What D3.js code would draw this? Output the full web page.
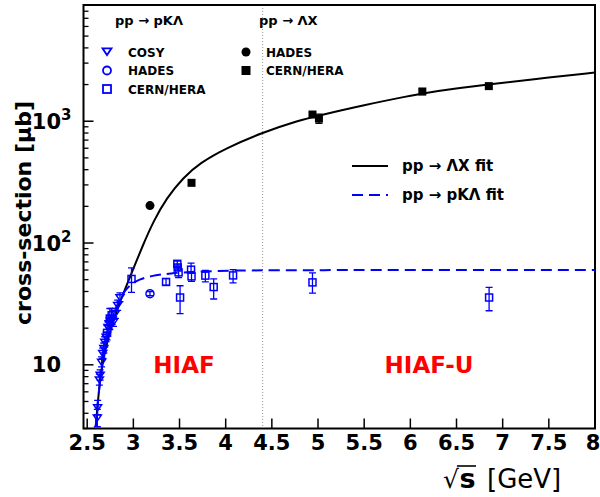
<!DOCTYPE html>
<html>
<head>
<meta charset="utf-8">
<script src="https://cdn.jsdelivr.net/npm/d3@7"></script>
<style>
  body { margin: 0; background: #fff; }
  text { font-family: "DejaVu Sans", sans-serif; }
</style>
</head>
<body>
<div id="chart"></div>
<script>
// data
// pp -> pK Lambda, COSY (x, y, error)
var cosyX = [2.610, 2.613, 2.632, 2.640, 2.656, 2.668, 2.680, 2.690, 2.705, 2.725, 2.738, 2.755, 2.770, 2.785, 2.805, 2.830, 2.855];
var cosyY = [3.7, 4.5, 7.6, 8.3, 10.6, 12.5, 13.8, 15.5, 17.0, 20.5, 22.0, 23.2, 23.5, 22.7, 26.6, 31.0, 36.0];
var cosyErr = [0.6, 0.6, 0.8, 0.8, 1.0, 1.2, 1.3, 1.5, 1.5, 2.0, 2.0, 2.2, 2.0, 2.0, 2.5, 3.0, 3.0];

// pp -> pK Lambda, HADES
var hadesPklX = [3.18];
var hadesPklY = [38.4];
var hadesPklErr = [1.5];

// pp -> pK Lambda, CERN/HERA (x, y, low, high)
var cernPklX = [2.715, 2.745, 2.765, 2.98, 3.354, 3.476, 3.480, 3.49, 3.506, 3.625, 3.63, 3.78, 3.87, 4.08, 4.94, 6.853];
var cernPklY = [18.3, 24.0, 25.5, 50.7, 47.9, 67.5, 63.0, 57.4, 35.7, 60.4, 53.2, 54.0, 43.5, 54.2, 47.5, 35.7];
var cernPklLo = [16.0, 19.5, 22.0, 39.3, 45.0, 64.0, 60.0, 52.0, 26.3, 57.0, 48.4, 47.9, 34.7, 47.0, 38.8, 27.8];
var cernPklHi = [21.0, 29.0, 29.0, 62.4, 51.0, 71.0, 66.0, 64.0, 44.6, 68.5, 58.0, 59.6, 50.7, 60.4, 56.8, 43.2];

// pp -> Lambda X
var hadesLxX = [3.18];
var hadesLxY = [203];
var cernLxX = [3.63, 4.94, 5.01, 6.13, 6.85];
var cernLxY = [312, 1135, 1052, 1755, 1942];
var cernLxErr = [15, 60, 90, 100, 60];

// fit curves, points
var fitLxX = [2.592, 2.639, 2.693, 2.765, 2.855, 2.965, 3.108, 3.216, 3.361, 3.541, 3.722, 4.0, 4.4, 4.8, 5.0, 5.5, 6.0, 6.13, 6.5, 6.85, 7.3, 8.0];
var fitLxY = [3.09, 7.96, 13.3, 21, 33, 53, 98, 150, 235, 345, 455, 600, 810, 1020, 1110, 1360, 1620, 1690, 1860, 2000, 2200, 2513];
var fitPklX = [2.592, 2.639, 2.693, 2.729, 2.783, 2.837, 2.91, 2.982, 3.072, 3.18, 3.397, 3.686, 4.046, 4.59, 8.0];
var fitPklY = [3.09, 7.96, 13.3, 18.5, 25.5, 33, 41, 46.5, 50.5, 53.5, 56.5, 58.3, 59.4, 60, 60];

// axis ticks
var xTicks = [2.5, 3, 3.5, 4, 4.5, 5, 5.5, 6, 6.5, 7, 7.5, 8];
var yMajor = [10, 100, 1000];
var yMajorLabels = [["10", ""], ["10", "2"], ["10", "3"]];
var dividerX = 4.4;

// svg container
var width = 600;
var height = 497;
var margin = { top: 5, right: 5, bottom: 68.5, left: 83.5 };
var blue = "#0000ff";

var svg = d3.select("#chart")
    .append("svg")
    .attr("width", width)
    .attr("height", height);

var x = d3.scaleLinear()
    .domain([2.46, 8])
    .range([margin.left, width - margin.right]);

var y = d3.scaleLog()
    .domain([3, 9000])
    .range([height - margin.bottom, margin.top]);

var x0 = x.range()[0], x1 = x.range()[1];
var y0 = y.range()[0], y1 = y.range()[1];

// dotted divider
svg.append("line")
    .attr("x1", x(dividerX)).attr("x2", x(dividerX))
    .attr("y1", y1).attr("y2", y0)
    .attr("stroke", "#999")
    .attr("stroke-width", 1)
    .attr("stroke-dasharray", "1,2");

// minor y ticks
var yMinor = [];
[1, 10, 100, 1000].forEach(function(dec) {
  for (var k = 2; k <= 9; k++) {
    var v = k * dec;
    if (v >= 3 && v <= 9000) yMinor.push(v);
  }
});
svg.selectAll(".yminor")
  .data(yMinor)
  .enter().append("line")
    .attr("x1", x0).attr("x2", x0 + 5)
    .attr("y1", d => y(d)).attr("y2", d => y(d))
    .attr("stroke", "#000").attr("stroke-width", 1.3);

svg.selectAll(".ymajor")
  .data(yMajor)
  .enter().append("line")
    .attr("x1", x0).attr("x2", x0 + 10)
    .attr("y1", d => y(d)).attr("y2", d => y(d))
    .attr("stroke", "#000").attr("stroke-width", 1.5);

// y labels with superscripts
yMajorLabels.forEach(function(lab, i) {
  var yy = y(yMajor[i]) + 7.5;
  svg.append("text")
    .attr("x", 61).attr("y", yy)
    .attr("text-anchor", "end")
    .attr("font-size", 21).attr("font-weight", "bold")
    .text(lab[0]);
  if (lab[1]) {
    svg.append("text")
      .attr("x", 61).attr("y", yy - 9)
      .attr("font-size", 15).attr("font-weight", "bold")
      .text(lab[1]);
  }
});

// x ticks
svg.selectAll(".xtick")
  .data(xTicks)
  .enter().append("line")
    .attr("x1", d => x(d)).attr("x2", d => x(d))
    .attr("y1", y0).attr("y2", y0 - 10)
    .attr("stroke", "#000").attr("stroke-width", 1.5);

svg.selectAll(".xlab")
  .data(xTicks)
  .enter().append("text")
    .attr("x", d => Math.min(x(d), width - 7))
    .attr("y", y0 + 21)
    .attr("text-anchor", "middle")
    .attr("font-size", 21).attr("font-weight", "bold")
    .text(d => d);

// frame
svg.append("rect")
    .attr("x", x0).attr("y", y1)
    .attr("width", x1 - x0).attr("height", y0 - y1)
    .attr("fill", "none").attr("stroke", "#000").attr("stroke-width", 2);

// axis titles
svg.append("text")
    .attr("transform", "translate(31,213) rotate(-90)")
    .attr("text-anchor", "middle")
    .attr("font-size", 22).attr("font-weight", "bold")
    .text("cross-section [\u03bcb]");

var xl = 443, xb = 488;
var sq = svg.append("text").attr("x", xl).attr("y", xb)
    .attr("font-size", 25).text("\u221a");
var sqW = sq.node().getComputedTextLength();
var sLet = svg.append("text").attr("x", xl + sqW + 0.5).attr("y", xb)
    .attr("font-size", 27).attr("font-weight", "bold").text("s");
var sW = sLet.node().getComputedTextLength();
svg.append("line")
    .attr("x1", xl + sqW - 2).attr("x2", xl + sqW + sW + 1)
    .attr("y1", xb - 22).attr("y2", xb - 22)
    .attr("stroke", "#000").attr("stroke-width", 1.6);
svg.append("text").attr("x", 487).attr("y", xb)
    .attr("font-size", 26).text("[GeV]");

// clip to plot area
svg.append("clipPath").attr("id", "clip")
  .append("rect")
    .attr("x", x0).attr("y", y1)
    .attr("width", x1 - x0).attr("height", y0 - y1);
var plot = svg.append("g").attr("clip-path", "url(#clip)");

// fits
var line = d3.line()
    .x(d => x(d[0]))
    .y(d => y(d[1]))
    .curve(d3.curveBasis);

plot.append("path")
    .datum(d3.zip(fitLxX, fitLxY))
    .attr("d", line)
    .attr("fill", "none").attr("stroke", "#000").attr("stroke-width", 2);

plot.append("path")
    .datum(d3.zip(fitPklX, fitPklY))
    .attr("d", line)
    .attr("fill", "none").attr("stroke", blue).attr("stroke-width", 2)
    .attr("stroke-dasharray", "11,6");

// error bar helper
function errBar(g, xv, lo, hi, color) {
  g.append("line")
    .attr("x1", x(xv)).attr("x2", x(xv))
    .attr("y1", y(lo)).attr("y2", y(hi))
    .attr("stroke", color).attr("stroke-width", 1.3);
  [lo, hi].forEach(function(v) {
    g.append("line")
      .attr("x1", x(xv) - 3.5).attr("x2", x(xv) + 3.5)
      .attr("y1", y(v)).attr("y2", y(v))
      .attr("stroke", color).attr("stroke-width", 1.3);
  });
}

function triDown(cx, cy, r) {
  return "M" + (cx - r) + "," + (cy - r * 0.6) +
    "L" + (cx + r) + "," + (cy - r * 0.6) +
    "L" + cx + "," + (cy + r * 0.9) + "Z";
}

// COSY
cosyX.forEach(function(xv, i) {
  errBar(plot, xv, cosyY[i] - cosyErr[i], cosyY[i] + cosyErr[i], blue);
  plot.append("path")
    .attr("d", triDown(x(xv), y(cosyY[i]), 4))
    .attr("fill", "none").attr("stroke", blue).attr("stroke-width", 1.5);
});

// CERN/HERA pK Lambda
cernPklX.forEach(function(xv, i) {
  errBar(plot, xv, cernPklLo[i], cernPklHi[i], blue);
  plot.append("rect")
    .attr("x", x(xv) - 3.5).attr("y", y(cernPklY[i]) - 3.5)
    .attr("width", 7).attr("height", 7)
    .attr("fill", "none").attr("stroke", blue).attr("stroke-width", 1.5);
});

// HADES pK Lambda
hadesPklX.forEach(function(xv, i) {
  errBar(plot, xv, hadesPklY[i] - hadesPklErr[i], hadesPklY[i] + hadesPklErr[i], blue);
  plot.append("circle")
    .attr("cx", x(xv)).attr("cy", y(hadesPklY[i])).attr("r", 4)
    .attr("fill", "none").attr("stroke", blue).attr("stroke-width", 1.5);
});

// Lambda X points
cernLxX.forEach(function(xv, i) {
  errBar(plot, xv, cernLxY[i] - cernLxErr[i], cernLxY[i] + cernLxErr[i], "#000");
  plot.append("rect")
    .attr("x", x(xv) - 4).attr("y", y(cernLxY[i]) - 4)
    .attr("width", 8).attr("height", 8)
    .attr("fill", "#000");
});
hadesLxX.forEach(function(xv, i) {
  plot.append("circle")
    .attr("cx", x(xv)).attr("cy", y(hadesLxY[i])).attr("r", 4.5)
    .attr("fill", "#000");
});

// HIAF labels
svg.append("text")
    .attr("x", 184).attr("y", 373)
    .attr("text-anchor", "middle")
    .attr("font-size", 23).attr("font-weight", "bold")
    .attr("fill", "#ff0000")
    .text("HIAF");
svg.append("text")
    .attr("x", 429).attr("y", 373)
    .attr("text-anchor", "middle")
    .attr("font-size", 23).attr("font-weight", "bold")
    .attr("fill", "#ff0000")
    .text("HIAF-U");

// data legend
var lg = svg.append("g").attr("font-weight", "bold");
lg.append("text").attr("x", 115).attr("y", 25).attr("font-size", 13)
    .text("pp \u2192 pK\u039b");
lg.append("text").attr("x", 259).attr("y", 25).attr("font-size", 13)
    .text("pp \u2192 \u039bX");

var rows = [52, 70.5, 89];
lg.append("path").attr("d", triDown(107, rows[0] - 1, 4.5))
    .attr("fill", "none").attr("stroke", blue).attr("stroke-width", 1.8);
lg.append("circle").attr("cx", 107).attr("cy", rows[1]).attr("r", 4)
    .attr("fill", "none").attr("stroke", blue).attr("stroke-width", 1.8);
lg.append("rect").attr("x", 103).attr("y", rows[2] - 4).attr("width", 8).attr("height", 8)
    .attr("fill", "none").attr("stroke", blue).attr("stroke-width", 1.8);
["COSY", "HADES", "CERN/HERA"].forEach(function(t, i) {
  lg.append("text").attr("x", 128).attr("y", rows[i] + 4.5)
    .attr("font-size", 12).text(t);
});

lg.append("circle").attr("cx", 246).attr("cy", rows[0]).attr("r", 4.5).attr("fill", "#000");
lg.append("rect").attr("x", 241.5).attr("y", rows[1] - 4.5).attr("width", 9).attr("height", 9).attr("fill", "#000");
["HADES", "CERN/HERA"].forEach(function(t, i) {
  lg.append("text").attr("x", 266).attr("y", rows[i] + 4.5)
    .attr("font-size", 12).text(t);
});

// fit legend
svg.append("line")
    .attr("x1", 352).attr("x2", 388).attr("y1", 166).attr("y2", 166)
    .attr("stroke", "#000").attr("stroke-width", 2);
svg.append("line")
    .attr("x1", 352).attr("x2", 388).attr("y1", 195).attr("y2", 195)
    .attr("stroke", blue).attr("stroke-width", 2)
    .attr("stroke-dasharray", "11,6");
svg.append("text").attr("x", 402).attr("y", 171)
    .attr("font-size", 15).attr("font-weight", "bold")
    .text("pp \u2192 \u039bX fit");
svg.append("text").attr("x", 402).attr("y", 200)
    .attr("font-size", 15).attr("font-weight", "bold")
    .text("pp \u2192 pK\u039b fit");
</script>
</body>
</html>
